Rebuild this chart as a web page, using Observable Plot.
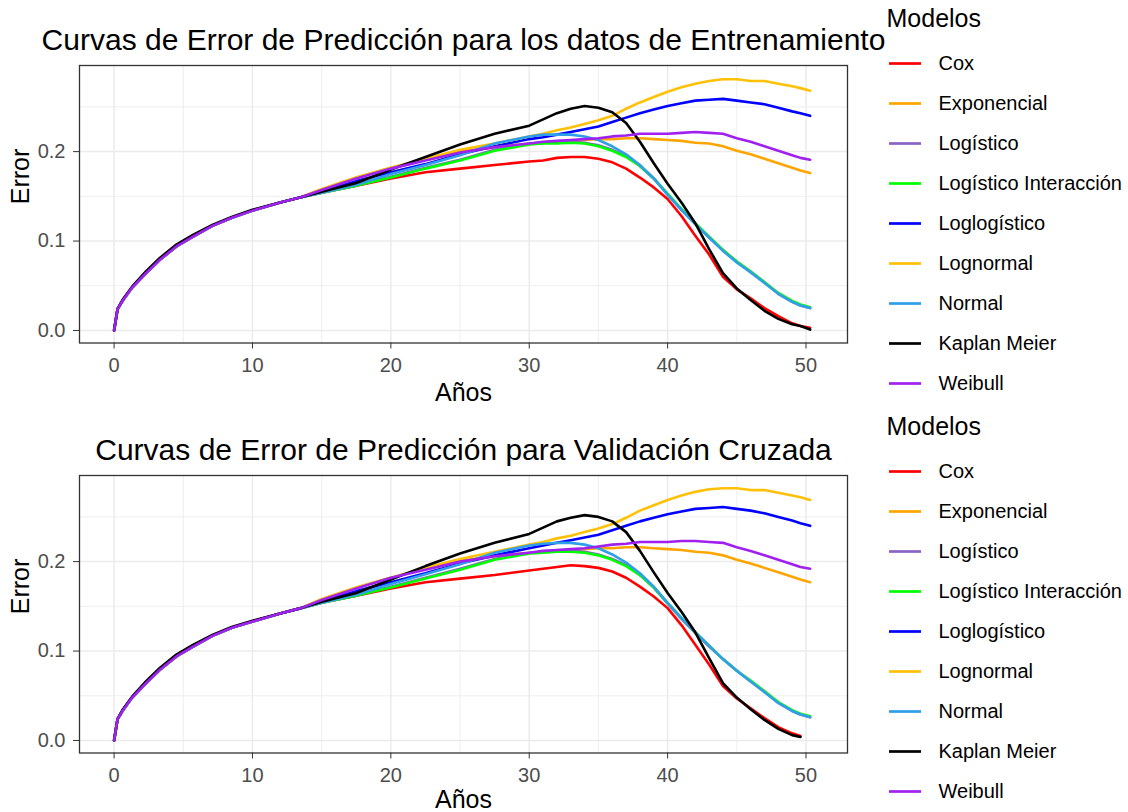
<!DOCTYPE html>
<html><head><meta charset="utf-8">
<script src="https://cdn.jsdelivr.net/npm/d3@7"></script>
<script src="https://cdn.jsdelivr.net/npm/@observablehq/plot@0.6"></script>
<style>
body{margin:0;background:#fff;}
#root{position:relative;width:1128px;height:812px;overflow:hidden;background:#fff;font-family:"Liberation Sans",Arial,sans-serif;}
#root > div{position:absolute;}
</style></head><body><div id="root"></div>
<script>
// ---------- data ----------
const modelos = ["Cox","Exponencial","Logístico","Logístico Interacción","Loglogístico","Lognormal","Normal","Kaplan Meier","Weibull"];
const colores = ["#FF0000","#FFA500","#8B62C4","#00FF00","#0000FF","#FFC107","#2E9FE8","#000000","#A020F0"];
const titulos = ["Curvas de Error de Predicción para los datos de Entrenamiento","Curvas de Error de Predicción para Validación Cruzada"];
const xTicks = [0,10,20,30,40,50];
const xMinor = [5,15,25,35,45];
const yTicks = [0,0.1,0.2];
const yMinor = [0.05,0.15,0.25];
const anios = [0,0.25,0.6,1.3,2.3,3.3,4.5,5.7,7.1,8.5,10,12,13.5,15,17.5,20,22.5,25,27.5,30,31,32,33,34,35,36,37,38,39,40,41,42,43,44,45,46,47,48,49,49.6,50.3];

// Entrenamiento
const cox1     = [0,0.024,0.033,0.048,0.064,0.079,0.094,0.105,0.117,0.126,0.134,0.143,0.149,0.154,0.162,0.170,0.177,0.181,0.185,0.189,0.190,0.193,0.194,0.194,0.192,0.188,0.181,0.171,0.160,0.147,0.128,0.106,0.085,0.060,0.046,0.036,0.025,0.016,0.008,0.005,0.003];
const expo1    = [0,0.024,0.033,0.048,0.064,0.079,0.094,0.105,0.117,0.126,0.134,0.143,0.149,0.158,0.171,0.182,0.191,0.200,0.205,0.209,0.210,0.211,0.212,0.213,0.214,0.214,0.215,0.215,0.214,0.213,0.212,0.210,0.209,0.206,0.201,0.197,0.192,0.187,0.182,0.179,0.176];
const logi1    = [0,0.024,0.033,0.048,0.064,0.079,0.094,0.105,0.117,0.126,0.134,0.143,0.149,0.154,0.162,0.172,0.182,0.191,0.202,0.209,0.210,0.211,0.211,0.210,0.207,0.202,0.195,0.184,0.170,0.152,0.135,0.119,0.104,0.090,0.077,0.066,0.054,0.041,0.032,0.028,0.025];
const logInt1  = [0,0.024,0.033,0.048,0.064,0.079,0.094,0.105,0.117,0.126,0.134,0.143,0.149,0.154,0.162,0.171,0.181,0.190,0.201,0.208,0.209,0.209,0.210,0.209,0.206,0.201,0.194,0.184,0.170,0.153,0.136,0.120,0.105,0.090,0.077,0.066,0.054,0.042,0.033,0.029,0.026];
const loglog1  = [0,0.024,0.033,0.048,0.064,0.079,0.094,0.105,0.117,0.126,0.134,0.143,0.149,0.156,0.167,0.177,0.186,0.197,0.206,0.214,0.216,0.219,0.222,0.225,0.228,0.233,0.238,0.243,0.247,0.251,0.254,0.257,0.258,0.259,0.257,0.255,0.253,0.249,0.245,0.243,0.240];
const lognorm1 = [0,0.024,0.033,0.048,0.064,0.079,0.094,0.105,0.117,0.126,0.134,0.143,0.149,0.158,0.171,0.182,0.192,0.202,0.209,0.217,0.220,0.224,0.227,0.231,0.235,0.240,0.248,0.255,0.261,0.267,0.272,0.276,0.279,0.281,0.281,0.279,0.279,0.276,0.273,0.271,0.268];
const normal1  = [0,0.024,0.033,0.048,0.064,0.079,0.094,0.105,0.117,0.126,0.134,0.143,0.149,0.154,0.163,0.175,0.185,0.196,0.209,0.217,0.219,0.219,0.219,0.217,0.213,0.206,0.197,0.185,0.170,0.152,0.135,0.119,0.104,0.089,0.076,0.065,0.053,0.041,0.032,0.028,0.025];
const km1      = [0,0.024,0.034,0.049,0.066,0.081,0.096,0.107,0.118,0.127,0.135,0.143,0.149,0.155,0.165,0.180,0.194,0.208,0.220,0.229,0.236,0.243,0.248,0.251,0.249,0.244,0.232,0.211,0.187,0.164,0.143,0.120,0.091,0.064,0.047,0.034,0.022,0.013,0.007,0.005,0.001];
const weib1    = [0,0.024,0.033,0.048,0.064,0.079,0.094,0.105,0.117,0.126,0.134,0.143,0.149,0.157,0.170,0.181,0.190,0.199,0.205,0.209,0.211,0.212,0.213,0.214,0.215,0.217,0.218,0.220,0.220,0.220,0.221,0.222,0.221,0.220,0.215,0.211,0.206,0.201,0.196,0.193,0.191];

// Validación cruzada
const cox2     = [0,0.024,0.033,0.048,0.064,0.079,0.094,0.105,0.117,0.126,0.133,0.142,0.148,0.154,0.162,0.170,0.177,0.181,0.185,0.190,0.192,0.194,0.196,0.195,0.193,0.189,0.182,0.172,0.161,0.148,0.129,0.107,0.085,0.061,0.047,0.036,0.025,0.015,0.008,0.005,null];
const expo2    = [0,0.024,0.033,0.048,0.064,0.079,0.094,0.105,0.117,0.126,0.133,0.142,0.148,0.158,0.171,0.182,0.192,0.201,0.206,0.210,0.211,0.212,0.213,0.214,0.215,0.215,0.216,0.216,0.215,0.214,0.213,0.211,0.210,0.207,0.202,0.198,0.193,0.188,0.183,0.180,0.177];
const logi2    = [0,0.024,0.033,0.048,0.064,0.079,0.094,0.105,0.117,0.126,0.133,0.142,0.148,0.154,0.162,0.172,0.182,0.192,0.203,0.210,0.211,0.212,0.212,0.211,0.208,0.203,0.196,0.185,0.171,0.153,0.136,0.120,0.105,0.091,0.078,0.066,0.055,0.042,0.033,0.029,0.026];
const logInt2  = [0,0.024,0.033,0.048,0.064,0.079,0.094,0.105,0.117,0.126,0.133,0.142,0.148,0.154,0.162,0.171,0.181,0.191,0.202,0.209,0.210,0.211,0.211,0.210,0.207,0.202,0.195,0.185,0.171,0.154,0.137,0.121,0.106,0.091,0.078,0.067,0.055,0.043,0.034,0.030,0.027];
const loglog2  = [0,0.024,0.033,0.048,0.064,0.079,0.094,0.105,0.117,0.126,0.133,0.142,0.148,0.156,0.167,0.177,0.187,0.198,0.207,0.215,0.218,0.221,0.224,0.227,0.230,0.235,0.240,0.245,0.249,0.253,0.256,0.259,0.260,0.261,0.259,0.257,0.254,0.250,0.246,0.243,0.240];
const lognorm2 = [0,0.024,0.033,0.048,0.064,0.079,0.094,0.105,0.117,0.126,0.133,0.142,0.148,0.158,0.171,0.182,0.193,0.203,0.211,0.219,0.222,0.226,0.229,0.233,0.237,0.242,0.249,0.257,0.263,0.269,0.274,0.278,0.281,0.282,0.282,0.280,0.280,0.277,0.274,0.272,0.269];
const normal2  = [0,0.024,0.033,0.048,0.064,0.079,0.094,0.105,0.117,0.126,0.133,0.142,0.148,0.154,0.163,0.175,0.186,0.197,0.210,0.218,0.220,0.221,0.221,0.219,0.215,0.208,0.199,0.187,0.172,0.154,0.137,0.121,0.106,0.091,0.078,0.066,0.054,0.042,0.033,0.029,0.026];
const km2      = [0,0.024,0.034,0.049,0.066,0.081,0.096,0.107,0.118,0.127,0.134,0.142,0.148,0.155,0.165,0.180,0.195,0.209,0.221,0.231,0.238,0.245,0.249,0.252,0.250,0.245,0.233,0.212,0.188,0.165,0.144,0.121,0.092,0.064,0.048,0.035,0.023,0.013,0.006,0.004,null];
const weib2    = [0,0.024,0.033,0.048,0.064,0.079,0.094,0.105,0.117,0.126,0.133,0.142,0.148,0.157,0.170,0.182,0.191,0.200,0.206,0.210,0.212,0.213,0.214,0.215,0.217,0.219,0.220,0.222,0.222,0.222,0.223,0.223,0.222,0.221,0.216,0.212,0.207,0.202,0.197,0.194,0.192];

const series1 = [cox1,expo1,logi1,logInt1,loglog1,lognorm1,normal1,km1,weib1];
const series2 = [cox2,expo2,logi2,logInt2,loglog2,lognorm2,normal2,km2,weib2];

// ---------- drawing ----------
const FONT = '"Liberation Sans", Arial, sans-serif';
const root = document.getElementById("root");

function rows(series) {
  const out = [];
  series.forEach((vals, i) => vals.forEach((v, j) => {
    if (v != null) out.push({modelo: modelos[i], t: anios[j], e: v});
  }));
  return out;
}

function panel(series, titulo, top, labelDy) {
  const chart = Plot.plot({
    width: 1128, height: 406,
    marginLeft: 79, marginRight: 281, marginTop: 65, marginBottom: 63.5,
    x: {domain: [-2.5, 53.0]},
    y: {domain: [-0.014, 0.2963]},
    color: {domain: modelos, range: colores},
    style: {fontFamily: FONT, background: "transparent", overflow: "visible"},
    marks: [
      Plot.ruleX(xMinor, {stroke: "#EBEBEB", strokeWidth: 0.8}),
      Plot.ruleY(yMinor, {stroke: "#EBEBEB", strokeWidth: 0.8}),
      Plot.ruleX(xTicks, {stroke: "#EBEBEB", strokeWidth: 1.5}),
      Plot.ruleY(yTicks, {stroke: "#EBEBEB", strokeWidth: 1.5}),
      Plot.line(rows(series), {x: "t", y: "e", z: "modelo", stroke: "modelo", strokeWidth: 2.6}),
      Plot.frame({stroke: "#333333", strokeWidth: 1.3}),
      Plot.axisX(xTicks, {tickSize: 6, tickPadding: 9, fontSize: 20, stroke: "#333333", fill: "#4D4D4D", label: null}),
      Plot.axisY(yTicks, {tickSize: 6, tickPadding: 8, fontSize: 20, stroke: "#333333", fill: "#4D4D4D", tickFormat: d3.format(".1f"), label: null}),
      Plot.text([titulo], {frameAnchor: "top", dy: -37, lineAnchor: "top", fontSize: 30, fill: "#000", text: d => d}),
      Plot.text(["Error"], {frameAnchor: "left", dx: -59, rotate: -90, fontSize: 25, fill: "#000", text: d => d}),
      Plot.text(["Años"], {frameAnchor: "bottom", dy: labelDy, lineAnchor: "top", fontSize: 25, fill: "#000", text: d => d})
    ]
  });
  const d = document.createElement("div");
  d.style.left = "0px"; d.style.top = top + "px";
  d.appendChild(chart);
  root.appendChild(d);
}

function leyenda(top) {
  const leg = Plot.plot({
    width: 268, height: 408,
    margin: 0,
    x: {domain: [0, 268], range: [0, 268], axis: null},
    y: {type: "point", domain: modelos, range: [62, 384.7], padding: 0, axis: null},
    color: {domain: modelos, range: colores},
    style: {fontFamily: FONT, background: "transparent", overflow: "visible"},
    marks: [
      Plot.text(["Modelos"], {frameAnchor: "top-left", dx: 26, dy: 9, lineAnchor: "top", textAnchor: "start", fontSize: 25, fill: "#000", text: d => d}),
      Plot.ruleY(modelos, {y: d => d, x1: 29, x2: 61, stroke: d => d, strokeWidth: 2.7}),
      Plot.text(modelos, {y: d => d, x: 78, text: d => d, textAnchor: "start", fontSize: 20, fill: "#000"})
    ]
  });
  const d = document.createElement("div");
  d.style.left = "860px"; d.style.top = top + "px";
  d.appendChild(leg);
  root.appendChild(d);
}

panel(series1, titulos[0], 0, 40.5);
panel(series2, titulos[1], 410, 37.5);
leyenda(0);
leyenda(408);
</script>
</body></html>
